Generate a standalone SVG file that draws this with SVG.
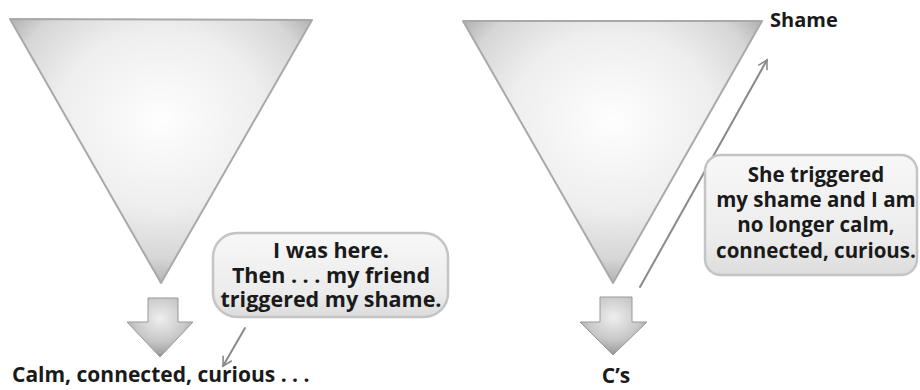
<svg xmlns="http://www.w3.org/2000/svg" width="920" height="390" viewBox="0 0 920 390">
<style>
.t{font-family:"Open Sans","Noto Sans","Liberation Sans",sans-serif;font-weight:bold;fill:#1a1a1a;}
.tri{fill:url(#triG);stroke:#a9a9a9;stroke-width:2;stroke-linejoin:round;filter:url(#soft);}
.blk{fill:url(#blkG);stroke:#999999;stroke-width:1;filter:url(#soft);}
.bub{fill:url(#bubG);stroke:#c4c4c4;stroke-width:2.5;filter:url(#soft);}
.ptr{fill:none;stroke:#8a8a8a;stroke-width:2;stroke-linecap:round;}
</style>
<defs>
<radialGradient id="triG" cx="0.5" cy="0.38" r="0.62">
<stop offset="0" stop-color="#fefefe"/>
<stop offset="0.55" stop-color="#eeeeee"/>
<stop offset="0.85" stop-color="#d6d6d6"/>
<stop offset="1" stop-color="#b3b3b3"/>
</radialGradient>
<radialGradient id="blkG" cx="0.5" cy="0.35" r="0.65">
<stop offset="0" stop-color="#eeeeee"/>
<stop offset="0.6" stop-color="#c8c8c8"/>
<stop offset="1" stop-color="#969696"/>
</radialGradient>
<linearGradient id="bubG" x1="0" y1="0" x2="0" y2="1">
<stop offset="0" stop-color="#f7f7f7"/>
<stop offset="0.7" stop-color="#ececec"/>
<stop offset="1" stop-color="#dcdcdc"/>
</linearGradient>
<filter id="soft" x="-5%" y="-5%" width="110%" height="110%">
<feGaussianBlur stdDeviation="0.7"/>
</filter>
<marker id="open" viewBox="0 0 12 12" refX="10" refY="6" markerWidth="12" markerHeight="12" markerUnits="userSpaceOnUse" orient="auto">
<path d="M1,1 L10,6 L1,11" fill="none" stroke="#8a8a8a" stroke-width="1.6"/>
</marker>
</defs>

<g id="triangle-left">
<path class="tri" d="M10,19 L312,20 L161,283 Z"/>
</g>
<g id="triangle-right">
<path class="tri" d="M463,21 L762,21 L613,283 Z"/>
</g>

<g id="connectors">
<path class="blk" d="M148,298 H178 V322 H193 L160,357 L127,322 H148 Z"/>
<path class="blk" d="M600,297 H632 V322 H647 L613,355 L580,322 H600 Z"/>
<line class="ptr" x1="245" y1="328" x2="223" y2="366" marker-end="url(#open)"/>
<line class="ptr" x1="640" y1="287" x2="767" y2="60" stroke-width="2.5" marker-end="url(#open)"/>
</g>

<g id="bubble-left">
<rect class="bub" x="213" y="233" width="235" height="84" rx="24"/>
<text class="t" font-size="21.5" text-anchor="middle"><tspan x="331" y="258">I was here.</tspan><tspan x="331" y="283">Then . . . my friend</tspan><tspan x="331" y="307">triggered my shame.</tspan></text>
</g>

<g id="bubble-right">
<rect class="bub" x="705" y="155" width="212" height="120" rx="16"/>
<text class="t" font-size="20.5" text-anchor="middle"><tspan x="816" y="182">She triggered</tspan><tspan x="816" y="207">my shame and I am</tspan><tspan x="816" y="232">no longer calm,</tspan><tspan x="816" y="258">connected, curious.</tspan></text>
</g>

<g id="label-calm">
<text class="t" font-size="21" x="12" y="382">Calm, connected, curious . . .</text>
</g>
<g id="label-cs">
<text class="t" font-size="21" x="616" y="383" text-anchor="middle">C’s</text>
</g>
<g id="label-shame">
<text class="t" font-size="20" x="770" y="27">Shame</text>
</g>
</svg>
